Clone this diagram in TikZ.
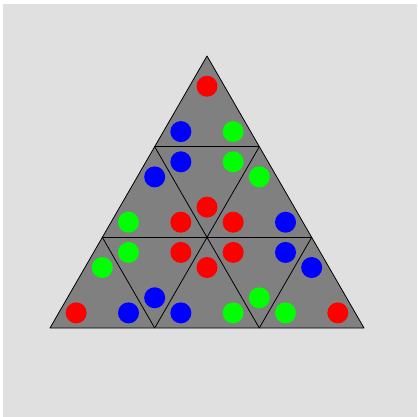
\documentclass[tikz,border=0pt]{standalone}
\usetikzlibrary{calc}

\definecolor{fondo}{RGB}{224,224,224}
\definecolor{tablero}{RGB}{128,128,128}

\begin{document}
\begin{tikzpicture}[
        x=1pt, y=-1pt,
        pieza/.style={fill=tablero},
        arista/.style={draw=black, line width=0.8pt, line join=round},
        ficha/.style={radius=10.5pt}
    ]
        % fondo
        \fill[white] (0,0) rectangle (417,417);
        \fill[fondo] (3,4) rectangle (417,417);
        \useasboundingbox (0,0) rectangle (417,417);

        % vertices de la rejilla
        \coordinate (v0) at (207,56);
        \coordinate (v1a) at (154.7,146.7);
        \coordinate (v1b) at (259.3,146.7);
        \coordinate (v2a) at (102.3,237.3);
        \coordinate (v2b) at (207,237.3);
        \coordinate (v2c) at (311.7,237.3);
        \coordinate (v3a) at (50,328);
        \coordinate (v3b) at (154.7,328);
        \coordinate (v3c) at (259.3,328);
        \coordinate (v3d) at (364,328);

        \fill[pieza] (v0) -- (v3a) -- (v3d) -- cycle;

        % aristas
        \draw[arista] (v0) -- (v3a) -- (v3d) -- cycle;
        \draw[arista] (v1a) -- (v1b);
        \draw[arista] (v2a) -- (v2c);
        \draw[arista] (v1a) -- (v3c);
        \draw[arista] (v1b) -- (v3b);
        \draw[arista] (v2a) -- (v3b);
        \draw[arista] (v2c) -- (v3c);

        % fichas de cada pieza
        \foreach \p/\q/\r/\cp/\cq/\cr in {
            v0/v1a/v1b/red/blue/green,
            v1a/v2a/v2b/blue/green/red,
            v1a/v1b/v2b/blue/green/red,
            v1b/v2b/v2c/green/red/blue,
            v2a/v3a/v3b/green/red/blue,
            v2a/v2b/v3b/green/red/blue,
            v2b/v3b/v3c/red/blue/green,
            v2b/v2c/v3c/red/blue/green,
            v2c/v3c/v3d/blue/green/red} {
            \coordinate (g) at (barycentric cs:\p=1,\q=1,\r=1);
            \fill[\cp] ($(\p)!0.5!(g)$) circle [ficha];
            \fill[\cq] ($(\q)!0.5!(g)$) circle [ficha];
            \fill[\cr] ($(\r)!0.5!(g)$) circle [ficha];
        }
    \end{tikzpicture}
\end{document}
